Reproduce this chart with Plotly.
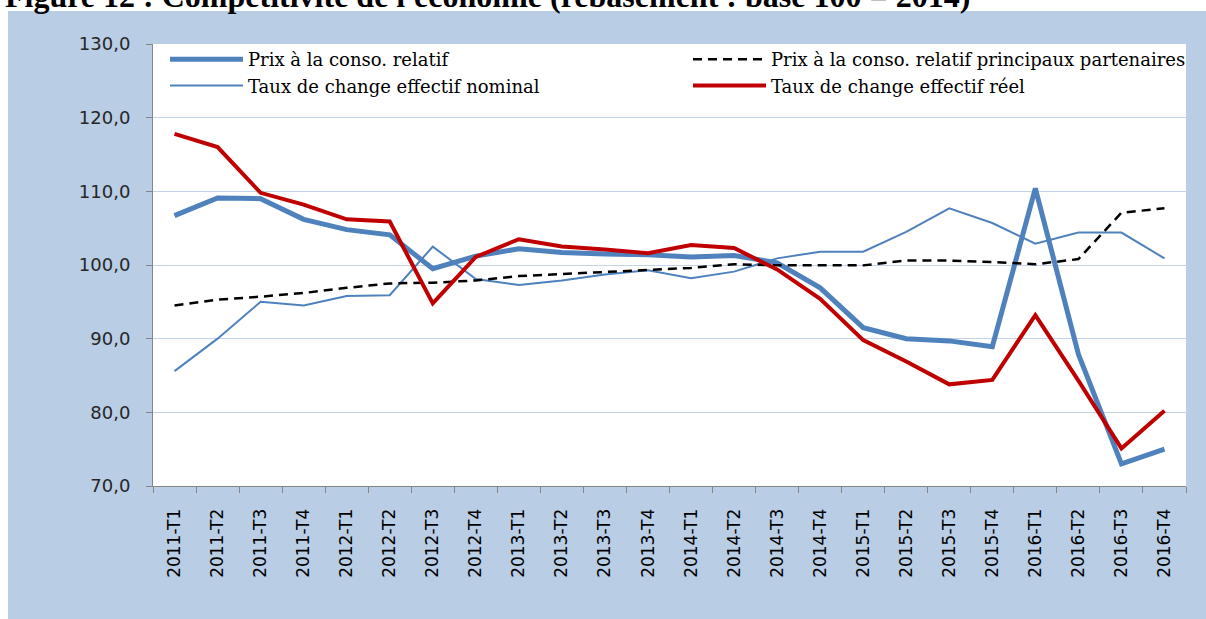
import plotly.graph_objects as go

categories = ["2011-T1", "2011-T2", "2011-T3", "2011-T4",
              "2012-T1", "2012-T2", "2012-T3", "2012-T4",
              "2013-T1", "2013-T2", "2013-T3", "2013-T4",
              "2014-T1", "2014-T2", "2014-T3", "2014-T4",
              "2015-T1", "2015-T2", "2015-T3", "2015-T4",
              "2016-T1", "2016-T2", "2016-T3", "2016-T4"]

prix_relatif = [106.7, 109.1, 109.0, 106.2, 104.8, 104.1, 99.5, 101.2,
                102.2, 101.7, 101.5, 101.4, 101.1, 101.3, 100.3, 96.9,
                91.5, 90.0, 89.7, 88.9, 110.4, 87.9, 73.0, 75.0]

prix_partenaires = [94.5, 95.3, 95.7, 96.2, 96.9, 97.5, 97.6, 97.9,
                    98.5, 98.8, 99.1, 99.3, 99.6, 100.1, 99.95, 99.95,
                    99.95, 100.6, 100.6, 100.4, 100.1, 100.8, 107.1, 107.7]

tcen = [85.6, 90.0, 95.0, 94.5, 95.8, 95.9, 102.5, 98.1,
        97.3, 97.9, 98.7, 99.3, 98.2, 99.1, 100.9, 101.8,
        101.8, 104.5, 107.7, 105.7, 102.9, 104.4, 104.4, 100.9]

tcer = [117.8, 116.0, 109.8, 108.2, 106.2, 105.9, 94.8, 101.1,
        103.5, 102.5, 102.1, 101.6, 102.7, 102.3, 99.4, 95.4,
        89.8, 86.9, 83.8, 84.4, 93.2, 84.3, 75.1, 80.2]

names = ["Prix à la conso. relatif",
         "Prix à la conso. relatif principaux partenaires",
         "Taux de change effectif nominal",
         "Taux de change effectif réel"]

title_text = "Figure 12 : Compétitivité de l'économie (rebasement : base 100 = 2014)"

BLUE = "#4F81BD"
RED = "#C00000"
PANEL = "#B9CDE5"
GRID = "#C3D4EA"

W, H = 1206, 619
L, R, T, B = 153, 20, 44, 133
pw, ph = W - L - R, H - T - B

def px_x(p):
    return (p - L) / pw

def px_y(p):
    return (H - B - p) / ph

fig = go.Figure()
fig.add_trace(go.Scatter(x=categories, y=prix_relatif, name=names[0], mode="lines",
                         line=dict(color=BLUE, width=5), legend="legend"))
fig.add_trace(go.Scatter(x=categories, y=tcen, name=names[2], mode="lines",
                         line=dict(color=BLUE, width=2), legend="legend"))
fig.add_trace(go.Scatter(x=categories, y=prix_partenaires, name=names[1], mode="lines",
                         line=dict(color="black", width=2.5, dash="9px,6px"), legend="legend2"))
fig.add_trace(go.Scatter(x=categories, y=tcer, name=names[3], mode="lines",
                         line=dict(color=RED, width=4), legend="legend2"))

legend_common = dict(orientation="v", xanchor="left", yanchor="top",
                     bgcolor="rgba(0,0,0,0)", borderwidth=0, itemwidth=73,
                     font=dict(family="DejaVu Serif", size=18, color="black"),
                     traceorder="normal", tracegroupgap=0)

fig.update_layout(
    width=W, height=H,
    margin=dict(l=L, r=R, t=T, b=B),
    paper_bgcolor="white",
    plot_bgcolor="white",
    separators=", ",
    showlegend=True,
    legend=dict(x=px_x(165), y=px_y(41), **legend_common),
    legend2=dict(x=px_x(688), y=px_y(41), **legend_common),
    shapes=[
        dict(type="rect", xref="paper", yref="paper", layer="below",
             x0=px_x(8), x1=px_x(W + 5), y0=px_y(H + 5), y1=px_y(11),
             fillcolor=PANEL, line=dict(width=0)),
        dict(type="rect", xref="paper", yref="paper", layer="below",
             x0=0, x1=1, y0=0, y1=1,
             fillcolor="white", line=dict(width=0)),
    ],
    annotations=[
        dict(text="<b>" + title_text + "</b>", xref="paper", yref="paper",
             x=px_x(3), y=px_y(-4), xanchor="left", yanchor="middle", showarrow=False,
             font=dict(family="Liberation Serif", size=32, color="black")),
    ],
)

fig.update_xaxes(
    type="category", range=[-0.5, len(categories) - 0.5],
    tickson="boundaries", ticks="outside", ticklen=6,
    tickcolor="#868686", showline=True, linecolor="#868686", linewidth=1,
    showgrid=False, tickangle=-90, ticklabelstandoff=15,
    tickfont=dict(family="DejaVu Sans", size=17, color="black"),
)
fig.update_yaxes(
    range=[70, 130], dtick=10, tick0=70, tickformat=".1f",
    ticks="outside", ticklen=6, tickcolor="#868686",
    showline=True, linecolor="#868686", linewidth=1,
    showgrid=True, gridcolor=GRID, gridwidth=1, zeroline=False,
    tickfont=dict(family="DejaVu Sans", size=18, color="#262626"),
    ticklabelstandoff=12,
)

fig.write_html("out.html", config={"displayModeBar": False},
               post_script="document.body.style.margin='0';")
